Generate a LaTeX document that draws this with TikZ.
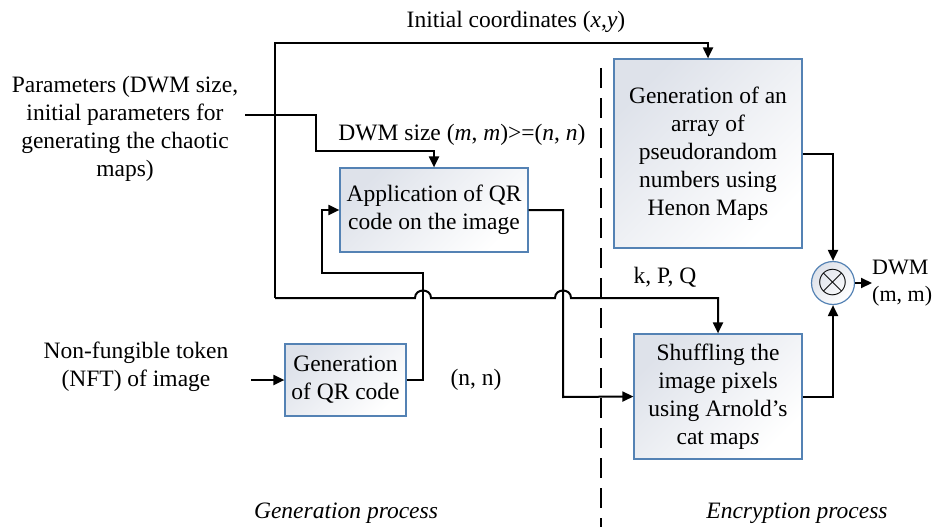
\documentclass[tikz,border=0pt]{standalone}
\usepackage{fontspec}
\setmainfont{Liberation Serif}
\usetikzlibrary{arrows.meta}
\definecolor{boxblue}{RGB}{84,130,180}
\definecolor{boxgray}{RGB}{222,226,234}
\begin{document}
\begin{tikzpicture}[x=1pt,y=-1pt,
  every node/.style={font=\fontsize{23.5}{28}\selectfont, inner sep=0pt},
  procbox/.style={draw=boxblue, line width=1.2pt, shade, top color=boxgray, bottom color=white, shading angle=45, align=center},
  conn/.style={line width=2pt, black},
  arr/.style={conn, -{Triangle[length=11pt,width=10pt]}},
  lbl/.style={align=center}
]
\useasboundingbox (0,0) rectangle (937,527);

% boxes
\node[procbox, minimum width=188pt, minimum height=189pt] (henon) at (708,153.5)
  {Generation of an\\array of\\pseudorandom\\numbers using\\Henon Maps};
\node[procbox, minimum width=168pt, minimum height=125pt] (shuffle) at (718,396.5)
  {Shuffling the\\image pixels\\using Arnold's\\cat map\textit{s}};
\node[procbox, minimum width=188pt, minimum height=84pt] (app) at (434,210)
  {Application of QR\\code on the image};
\node[procbox, minimum width=121pt, minimum height=72pt] (qr) at (345.5,380)
  {Generation\\of QR code};
\node[circle, draw=boxblue, line width=1.2pt, shade, top color=boxgray, bottom color=white, shading angle=45, minimum size=43pt] (circ) at (833,283) {\scalebox{1.6}{$\otimes$}};

% labels
\node (init) at (516,22) {Initial coordinates (\textit{x},\textit{y})};
\node[lbl] (params) at (125,129) {Parameters (DWM size,\\initial parameters for\\generating the chaotic\\maps)};
\node (dwmsize) at (462,135) {DWM size (\textit{m}, \textit{m})>=(\textit{n}, \textit{n})};
\node[lbl] (nft) at (136,367) {Non-fungible token\\(NFT) of image};
\node (nn) at (476,380) {(n, n)};
\node (kpq) at (665,277) {k, P, Q};
\node[anchor=west, align=left, font=\fontsize{22}{27}\selectfont] (dwm) at (872,283) {DWM\\(m, m)};
\node (genp) at (346,513) {\textit{Generation process}};
\node (encp) at (797,513) {\textit{Encryption process}};

% coordinates
\coordinate (c1) at (275,43);
\coordinate (c2) at (275,298);
\coordinate (h1a) at (415,298);
\coordinate (h1b) at (431,298);
\coordinate (h2a) at (555,298);
\coordinate (h2b) at (571,298);
\coordinate (p0) at (245,115);
\coordinate (p1) at (316,115);
\coordinate (p2) at (316,151);
\coordinate (q1) at (423,380);
\coordinate (q2) at (423,273);
\coordinate (q3) at (322,273);
\coordinate (q4) at (322,210);
\coordinate (a1) at (563,210);
\coordinate (a2) at (563,397);
\coordinate (n0) at (251,380);
\coordinate (d0) at (601,68);
\coordinate (d1) at (601,527);

% connectors
\draw[arr] (c2) -- (c1) -| (henon.north);
\draw[arr] (c2) -- (h1a) .. controls (415,288) and (431,288) .. (h1b)
  -- (h2a) .. controls (555,288) and (571,288) .. (h2b) -| (shuffle.north);
\draw[arr] (p0) -- (p1) -- (p2) -| (app.north);
\draw[arr] (qr.east) -- (q1) -- (q2) -- (q3) -- (q4) -- (app.west);
\draw[arr] (app.east) -- (a1) -- (a2) -- (shuffle.west);
\draw[arr] (henon.east) -| (circ.north);
\draw[arr] (shuffle.east) -| (circ.south);
\draw[arr] (circ.east) -- (dwm.west);
\draw[arr] (n0) -- (qr.west);
\draw[line width=1.5pt, dash pattern=on 20pt off 10pt] (d0) -- (d1);
\end{tikzpicture}
\end{document}
